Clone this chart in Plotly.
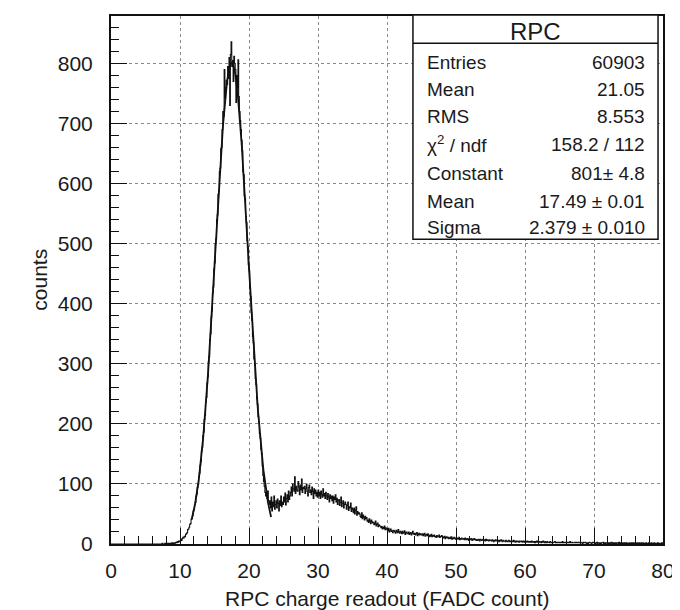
import math
import plotly.graph_objects as go

# ---------------- data ----------------
BIN_WIDTH = 0.1
X_RANGE = [0, 80]
Y_RANGE = [0, 879]

# bin contents, one row per unit of x (10 bins of width 0.1 each)
counts_rows = [
    [0, 0, 0, 0, 0, 0, 0, 0, 0, 0],  # 0
    [0, 0, 0, 0, 0, 0, 0, 0, 0, 0],  # 1
    [0, 0, 0, 0, 0, 0, 0, 0, 0, 0],  # 2
    [0, 0, 0, 0, 0, 0, 0, 0, 0, 0],  # 3
    [0, 0, 0, 0, 0, 0, 0, 0, 0, 0],  # 4
    [0, 0, 0, 0, 0, 0, 0, 0, 0, 0],  # 5
    [0, 0, 0, 0, 0, 0, 0, 0, 0, 0],  # 6
    [0, 0, 0, 0, 1, 0, 0, 0, 1, 0],  # 7
    [0, 1, 0, 1, 0, 1, 1, 0, 2, 1],  # 8
    [1, 2, 1, 2, 3, 2, 4, 3, 5, 4],  # 9
    [5, 8, 6, 9, 11, 10, 13, 12, 16, 17],  # 10
    [19, 24, 25, 28, 33, 34, 41, 42, 47, 55],  # 11
    [57, 66, 69, 80, 83, 94, 99, 112, 118, 131],  # 12
    [137, 155, 161, 180, 186, 207, 214, 236, 244, 268],  # 13
    [278, 303, 312, 340, 350, 378, 388, 418, 428, 458],  # 14
    [468, 500, 508, 540, 548, 582, 588, 620, 626, 658],  # 15
    [660, 690, 720, 712, 790, 742, 760, 772, 765, 795],  # 16
    [775, 810, 730, 815, 836, 795, 805, 770, 812, 800],  # 17
    [790, 735, 780, 760, 806, 745, 720, 705, 690, 672],  # 18
    [655, 620, 615, 580, 575, 545, 535, 505, 495, 465],  # 19
    [455, 425, 412, 385, 372, 345, 335, 308, 298, 275],  # 20
    [265, 242, 233, 212, 203, 184, 176, 158, 150, 130],  # 21
    [114, 104, 96, 86, 80, 84, 76, 88, 72, 66],  # 22
    [72, 60, 78, 55, 70, 62, 80, 58, 66, 72],  # 23
    [60, 75, 68, 55, 72, 64, 80, 62, 70, 66],  # 24
    [78, 70, 85, 65, 76, 82, 70, 88, 74, 80],  # 25
    [86, 95, 80, 100, 92, 88, 112, 84, 96, 90],  # 26
    [88, 104, 95, 82, 98, 90, 108, 86, 94, 92],  # 27
    [96, 84, 92, 100, 88, 80, 94, 98, 86, 90],  # 28
    [82, 95, 88, 76, 92, 84, 90, 80, 86, 78],  # 29
    [90, 80, 86, 76, 88, 82, 78, 92, 80, 84],  # 30
    [76, 86, 80, 74, 84, 78, 70, 82, 76, 80],  # 31
    [72, 80, 68, 78, 74, 82, 70, 76, 66, 72],  # 32
    [74, 64, 70, 78, 62, 68, 72, 60, 66, 70],  # 33
    [66, 58, 64, 70, 56, 62, 60, 68, 54, 60],  # 34
    [58, 52, 60, 50, 56, 62, 48, 54, 50, 52],  # 35
    [50, 46, 44, 52, 42, 48, 45, 40, 46, 42],  # 36
    [44, 38, 40, 36, 42, 38, 34, 40, 37, 35],  # 37
    [36, 32, 34, 38, 30, 33, 35, 29, 32, 30],  # 38
    [30, 27, 29, 25, 28, 26, 30, 24, 27, 25],  # 39
    [24, 22, 26, 20, 23, 25, 21, 22, 19, 23],  # 40
    [22, 20, 18, 23, 21, 19, 24, 20, 18, 21],  # 41
    [20, 17, 21, 18, 19, 22, 16, 19, 20, 17],  # 42
    [17, 20, 16, 18, 19, 15, 18, 21, 17, 16],  # 43
    [18, 15, 17, 19, 14, 16, 18, 15, 17, 16],  # 44
    [15, 17, 14, 16, 18, 13, 15, 16, 14, 17],  # 45
    [14, 12, 15, 13, 16, 12, 14, 13, 15, 12],  # 46
    [13, 11, 14, 12, 12, 15, 11, 13, 12, 14],  # 47
    [12, 10, 11, 13, 9, 11, 12, 10, 11, 9],  # 48
    [10, 11, 9, 12, 8, 10, 9, 11, 10, 8],  # 49
    [9, 10, 8, 9, 11, 7, 9, 8, 10, 8],  # 50
    [8, 9, 7, 10, 8, 7, 9, 8, 6, 9],  # 51
    [7, 8, 9, 6, 8, 7, 9, 7, 8, 6],  # 52
    [7, 6, 8, 7, 5, 8, 7, 6, 7, 8],  # 53
    [6, 7, 5, 8, 6, 7, 6, 5, 7, 6],  # 54
    [6, 5, 7, 6, 4, 6, 5, 7, 6, 5],  # 55
    [5, 6, 4, 6, 5, 7, 5, 4, 6, 5],  # 56
    [5, 4, 6, 5, 4, 5, 6, 4, 5, 4],  # 57
    [4, 5, 4, 6, 4, 5, 3, 5, 4, 5],  # 58
    [4, 3, 5, 4, 4, 5, 3, 4, 5, 3],  # 59
    [4, 3, 4, 5, 3, 4, 3, 4, 3, 5],  # 60
    [3, 4, 3, 4, 2, 4, 3, 5, 3, 3],  # 61
    [3, 4, 3, 2, 4, 3, 5, 3, 2, 4],  # 62
    [3, 2, 4, 3, 3, 2, 4, 3, 2, 3],  # 63
    [2, 3, 3, 4, 2, 3, 2, 3, 3, 2],  # 64
    [3, 2, 3, 2, 4, 2, 3, 2, 3, 2],  # 65
    [2, 3, 2, 3, 2, 4, 2, 2, 3, 2],  # 66
    [2, 2, 3, 2, 3, 2, 2, 3, 2, 2],  # 67
    [3, 2, 2, 1, 3, 2, 2, 3, 2, 1],  # 68
    [2, 1, 2, 3, 2, 2, 1, 2, 3, 2],  # 69
    [2, 2, 1, 2, 3, 1, 2, 2, 1, 2],  # 70
    [1, 2, 2, 3, 1, 2, 1, 2, 2, 1],  # 71
    [2, 1, 2, 1, 2, 3, 1, 2, 1, 2],  # 72
    [1, 2, 1, 2, 2, 1, 3, 1, 2, 1],  # 73
    [2, 1, 1, 2, 1, 2, 1, 2, 1, 1],  # 74
    [1, 2, 1, 1, 2, 1, 2, 1, 1, 2],  # 75
    [1, 1, 2, 1, 1, 2, 1, 1, 2, 1],  # 76
    [1, 2, 1, 1, 1, 2, 1, 1, 1, 2],  # 77
    [1, 1, 1, 2, 1, 1, 1, 2, 1, 1],  # 78
    [1, 1, 2, 1, 1, 1, 1, 1, 2, 1],  # 79
]
counts = [v for row in counts_rows for v in row]

# Gaussian fit parameters (from the stats box) and fit range
FIT_CONST = 801.0
FIT_MEAN = 17.49
FIT_SIGMA = 2.379
FIT_RANGE = [11.7, 23.2]

# stats box
STATS_TITLE = "RPC"
stats_labels = ["Entries", "Mean", "RMS", "χ<sup>2</sup> / ndf", "Constant", "Mean", "Sigma"]
stats_values = ["60903", "21.05", "8.553", "158.2 / 112", "801\u00b1 4.8",
                "17.49 \u00b1 0.01", "2.379 \u00b1 0.010"]

X_TITLE = "RPC charge readout (FADC count)"
Y_TITLE = "counts"

# ---------------- figure ----------------
edges = [X_RANGE[0] + i * BIN_WIDTH for i in range(len(counts) + 1)]
step_y = counts + [counts[-1]]

fig = go.Figure()
fig.add_trace(go.Scatter(
    x=edges, y=step_y, mode="lines", line=dict(color="#111111", width=1.1, shape="hv"),
    hoverinfo="skip", showlegend=False))

n_fit = 231
fx = [FIT_RANGE[0] + (FIT_RANGE[1] - FIT_RANGE[0]) * k / (n_fit - 1) for k in range(n_fit)]
fy = [FIT_CONST * math.exp(-0.5 * ((x - FIT_MEAN) / FIT_SIGMA) ** 2) for x in fx]
fig.add_trace(go.Scatter(x=fx, y=fy, mode="lines", line=dict(color="#111111", width=1.8),
                         hoverinfo="skip", showlegend=False))

FONT = "Liberation Sans, Arial, sans-serif"
TXT = "#1a1a1a"

axis_common = dict(
    showline=True, linecolor="#111111", linewidth=2, mirror=True,
    ticks="inside", tickcolor="#111111", tickwidth=1, ticklen=16,
    showgrid=True, gridcolor="#8a8a8a", gridwidth=1, griddash="dot",
    zeroline=False, tickfont=dict(family=FONT, size=21, color=TXT),
)
fig.update_xaxes(range=X_RANGE, dtick=10, tick0=0,
                 minor=dict(dtick=2, ticks="inside", ticklen=8, tickcolor="#111111", showgrid=False),
                 ticklabelstandoff=7, **axis_common)
fig.update_yaxes(range=Y_RANGE, dtick=100, tick0=0,
                 minor=dict(dtick=20, ticks="inside", ticklen=8, tickcolor="#111111", showgrid=False),
                 ticklabelstandoff=12, **axis_common)

# stats box
bx0, bx1, by0, by1 = 0.547, 0.991, 0.577, 1.002
fig.add_shape(type="rect", xref="paper", yref="paper", x0=bx0, x1=bx1, y0=by0, y1=by1,
              line=dict(color="#111111", width=1.5), fillcolor="white", layer="above")
fig.add_shape(type="line", xref="paper", yref="paper", x0=bx0, x1=bx1, y0=0.9485, y1=0.9485,
              line=dict(color="#111111", width=1.5), layer="above")
fig.add_annotation(xref="paper", yref="paper", x=(bx0 + bx1) / 2, y=0.971, text=STATS_TITLE,
                   showarrow=False, font=dict(family=FONT, size=24, color=TXT),
                   xanchor="center", yanchor="middle")
row_y = [0.9126, 0.8604, 0.810, 0.757, 0.7013, 0.6496, 0.5994]
for lab, val, yy in zip(stats_labels, stats_values, row_y):
    fig.add_annotation(xref="paper", yref="paper", x=0.569, y=yy, text=lab, showarrow=False,
                       font=dict(family=FONT, size=19, color=TXT), xanchor="left", yanchor="middle")
    fig.add_annotation(xref="paper", yref="paper", x=0.9706, y=yy, text=val, showarrow=False,
                       font=dict(family=FONT, size=19, color=TXT), xanchor="right", yanchor="middle")

# axis titles
fig.add_annotation(xref="paper", yref="paper", x=0.5, y=-0.1038, text=X_TITLE, showarrow=False,
                   font=dict(family=FONT, size=21, color=TXT), xanchor="center", yanchor="middle")
fig.add_annotation(xref="paper", yref="paper", x=-0.131, y=0.5, text=Y_TITLE, showarrow=False,
                   textangle=-90, font=dict(family=FONT, size=21, color=TXT),
                   xanchor="center", yanchor="middle")

fig.update_layout(
    width=680, height=610,
    margin=dict(l=103, r=25, t=6, b=74),
    paper_bgcolor="white", plot_bgcolor="white",
    showlegend=False,
)

fig.write_html("out.html")
